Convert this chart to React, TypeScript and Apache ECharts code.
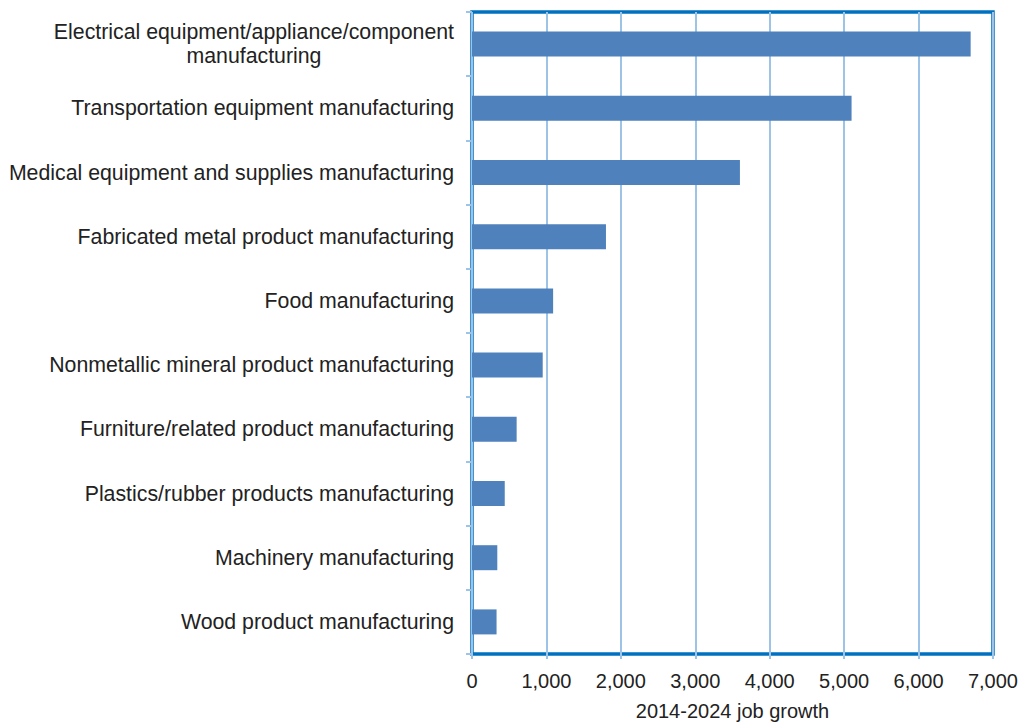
import React, { useEffect, useRef } from "react";
import * as echarts from "echarts";

const categories = [
  "Electrical equipment/appliance/component\nmanufacturing",
  "Transportation equipment manufacturing",
  "Medical equipment and supplies manufacturing",
  "Fabricated metal product manufacturing",
  "Food manufacturing",
  "Nonmetallic mineral product manufacturing",
  "Furniture/related product manufacturing",
  "Plastics/rubber products manufacturing",
  "Machinery manufacturing",
  "Wood product manufacturing",
];

const jobGrowth = [6700, 5100, 3600, 1800, 1090, 950, 600, 440, 340, 330];

const xMin = 0;
const xMax = 7000;
const xInterval = 1000;
const axisTitle = "2014-2024 job growth";

const FONT = "'Liberation Sans', Arial, sans-serif";

export default function App() {
  const ref = useRef<HTMLDivElement>(null);

  useEffect(() => {
    if (!ref.current) return;
    const chart = echarts.init(ref.current, null, { renderer: "svg" });
    chart.setOption({
      animation: false,
      backgroundColor: "#ffffff",
      grid: {
        left: 472,
        right: 28,
        top: 12,
        bottom: 65,
        show: true,
        borderColor: "#0070C0",
        borderWidth: 3.5,
        containLabel: false,
      },
      xAxis: {
        type: "value",
        min: xMin,
        max: xMax,
        interval: xInterval,
        name: axisTitle,
        nameLocation: "middle",
        nameGap: 47,
        nameTextStyle: { color: "#222222", fontSize: 20, fontFamily: FONT },
        axisLine: { show: false },
        axisTick: {
          show: true,
          length: 5,
          lineStyle: { color: "#9DC3E6", width: 2 },
        },
        axisLabel: {
          color: "#222222",
          fontSize: 20,
          fontFamily: FONT,
          margin: 17,
          formatter: (v: number) => v.toLocaleString("en-US"),
        },
        splitLine: { show: true, lineStyle: { color: "#9DC3E6", width: 2 } },
      },
      yAxis: {
        type: "category",
        data: categories,
        inverse: true,
        axisLine: { show: false },
        axisTick: {
          show: true,
          length: 6,
          lineStyle: { color: "#9DC3E6", width: 2 },
        },
        axisLabel: {
          margin: 18,
          color: "#222222",
          fontSize: 21.3,
          fontFamily: FONT,
          formatter: (v: string) =>
            v
              .split("\n")
              .map((l) => "{c|" + l + "}")
              .join("\n"),
          rich: {
            c: {
              align: "center",
              color: "#222222",
              fontSize: 21.3,
              fontFamily: FONT,
              lineHeight: 24,
            },
          },
        },
        splitLine: { show: false },
      },
      series: [
        {
          type: "bar",
          data: jobGrowth,
          barWidth: 25,
          itemStyle: { color: "#4F81BD" },
        },
      ],
    });
    return () => chart.dispose();
  }, []);

  return (
    <div
      ref={ref}
      style={{ position: "fixed", left: 0, top: 0, width: 1021, height: 726 }}
    />
  );
}
